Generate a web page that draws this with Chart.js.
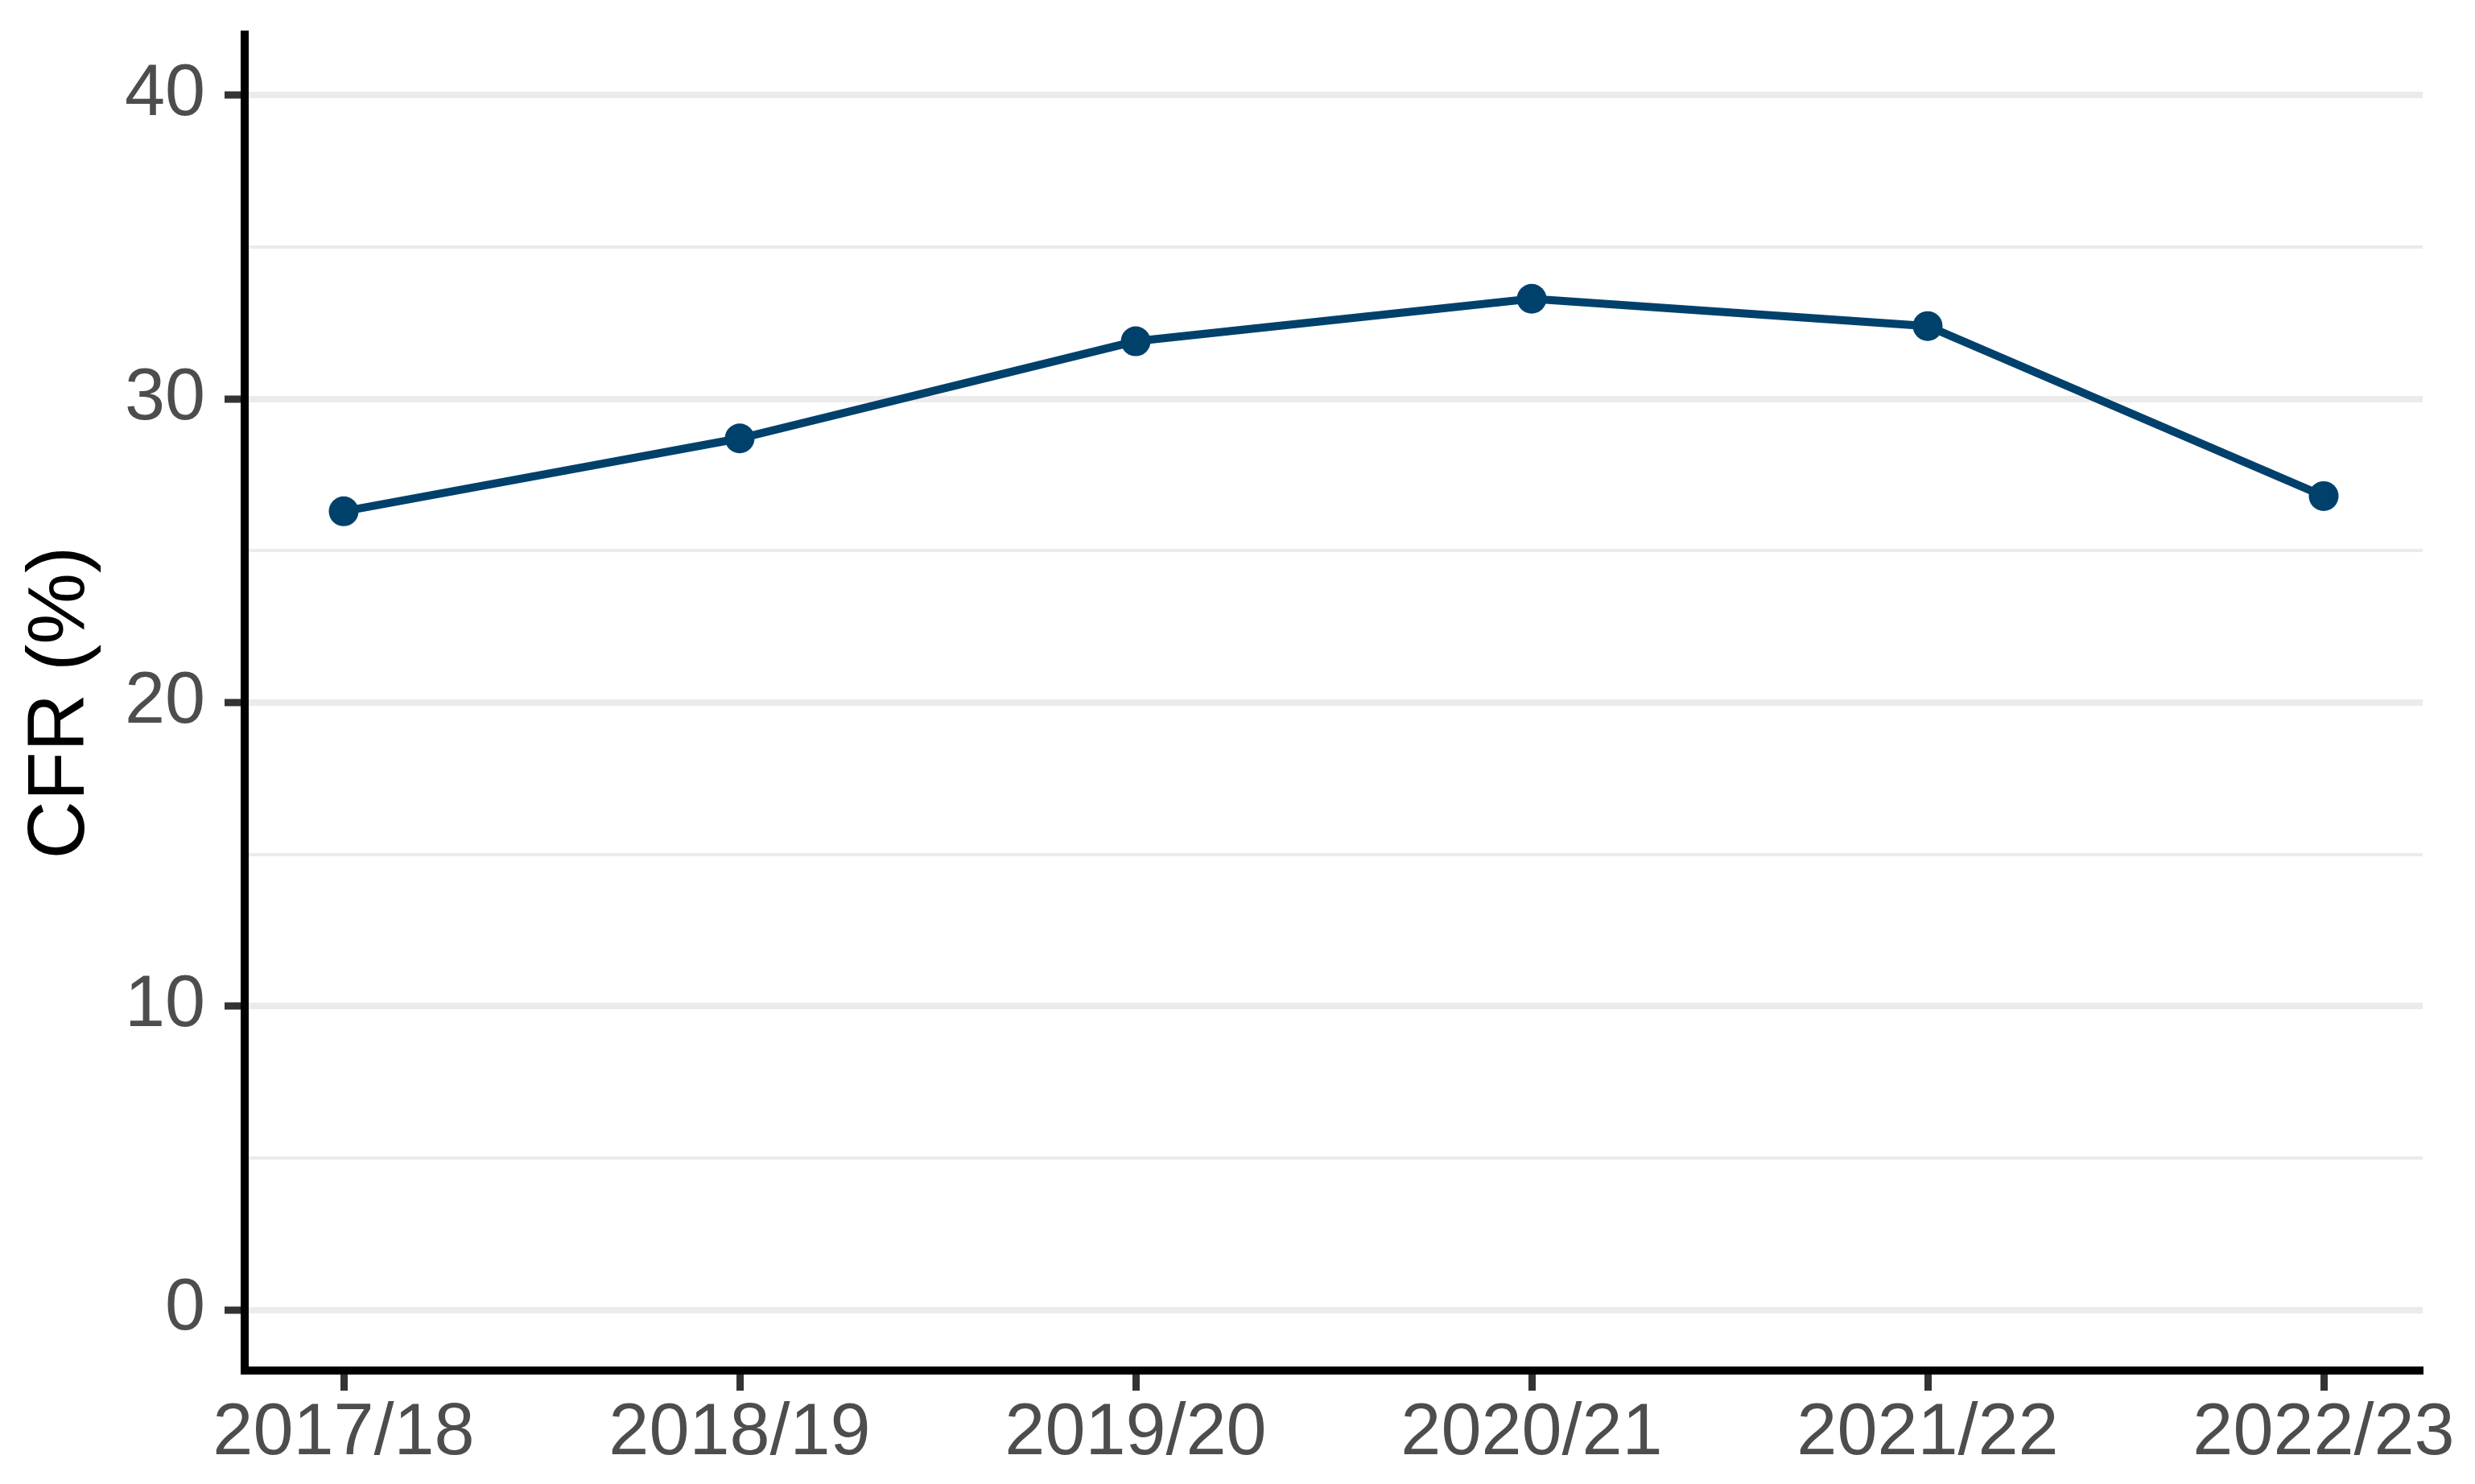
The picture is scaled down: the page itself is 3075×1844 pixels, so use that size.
<!DOCTYPE html>
<html>
<head>
<meta charset="utf-8">
<script src="https://cdn.jsdelivr.net/npm/chart.js@4/dist/chart.umd.min.js"></script>
<style>
  html, body { margin: 0; padding: 0; background: #fff; }
  canvas { display: block; }
</style>
</head>
<body>
<canvas id="cfr-chart" width="3075" height="1844"></canvas>
<script>
// Data
const seasons = ['2017/18', '2018/19', '2019/20', '2020/21', '2021/22', '2022/23'];
const cfrValues = [26.3, 28.7, 31.9, 33.3, 32.4, 26.8];
const yTicks = [0, 5, 10, 15, 20, 25, 30, 35, 40]; // odd fives are minor lines
const yLabels = ['0', '', '10', '', '20', '', '30', '', '40'];

const lineColor = '#00416C';
const font = 'Liberation Sans, Arial, sans-serif';

const points = cfrValues.map((v, i) => ({ x: i, y: v }));

const ctx = document.getElementById('cfr-chart').getContext('2d');
new Chart(ctx, {
  type: 'line',
  data: {
    datasets: [{
      data: points,
      borderColor: lineColor,
      backgroundColor: lineColor,
      borderWidth: 10,
      pointRadius: 18.5,
      pointHoverRadius: 18.5,
      pointBorderWidth: 0,
      tension: 0,
      clip: false
    }]
  },
  options: {
    responsive: false,
    animation: false,
    layout: { padding: { top: 43, right: 65, bottom: 0, left: 0 } },
    plugins: { legend: { display: false }, tooltip: { enabled: false } },
    scales: {
      x: {
        type: 'linear',
        min: -0.25,
        max: 5.25,
        afterBuildTicks: (scale) => { scale.ticks = seasons.map((s, i) => ({ value: i })); },
        afterFit: (scale) => { scale.height = 141; scale.paddingLeft = 0; scale.paddingRight = 0; },
        grid: {
          drawOnChartArea: false,
          drawTicks: true,
          tickLength: 25,
          tickWidth: 9,
          tickColor: '#333333'
        },
        border: { display: true, color: '#000000', width: 10 },
        ticks: {
          autoSkip: false,
          maxRotation: 0,
          padding: 0,
          color: '#4D4D4D',
          font: { family: font, size: 90 },
          callback: (value) => seasons[value]
        }
      },
      y: {
        min: -2,
        max: 42,
        afterBuildTicks: (scale) => { scale.ticks = yTicks.map(v => ({ value: v })); },
        afterFit: (scale) => { scale.width = 304; scale.paddingTop = 0; scale.paddingBottom = 0; },
        grid: {
          color: '#EBEBEB',
          lineWidth: (c) => (c.tick && c.tick.value % 10 === 0 ? 8 : 4),
          drawTicks: true,
          tickLength: 25,
          tickWidth: 9,
          tickColor: (c) => (c.tick && c.tick.value % 10 === 0 ? '#333333' : 'rgba(0,0,0,0)')
        },
        border: { display: true, color: '#000000', width: 10 },
        ticks: {
          padding: 24,
          color: '#4D4D4D',
          font: { family: font, size: 90 },
          callback: (value) => yLabels[yTicks.indexOf(value)]
        },
        title: {
          display: true,
          text: 'CFR (%)',
          color: '#000000',
          font: { family: font, size: 100 },
          padding: { top: 16, bottom: 0 }
        }
      }
    }
  }
});
</script>
</body>
</html>
